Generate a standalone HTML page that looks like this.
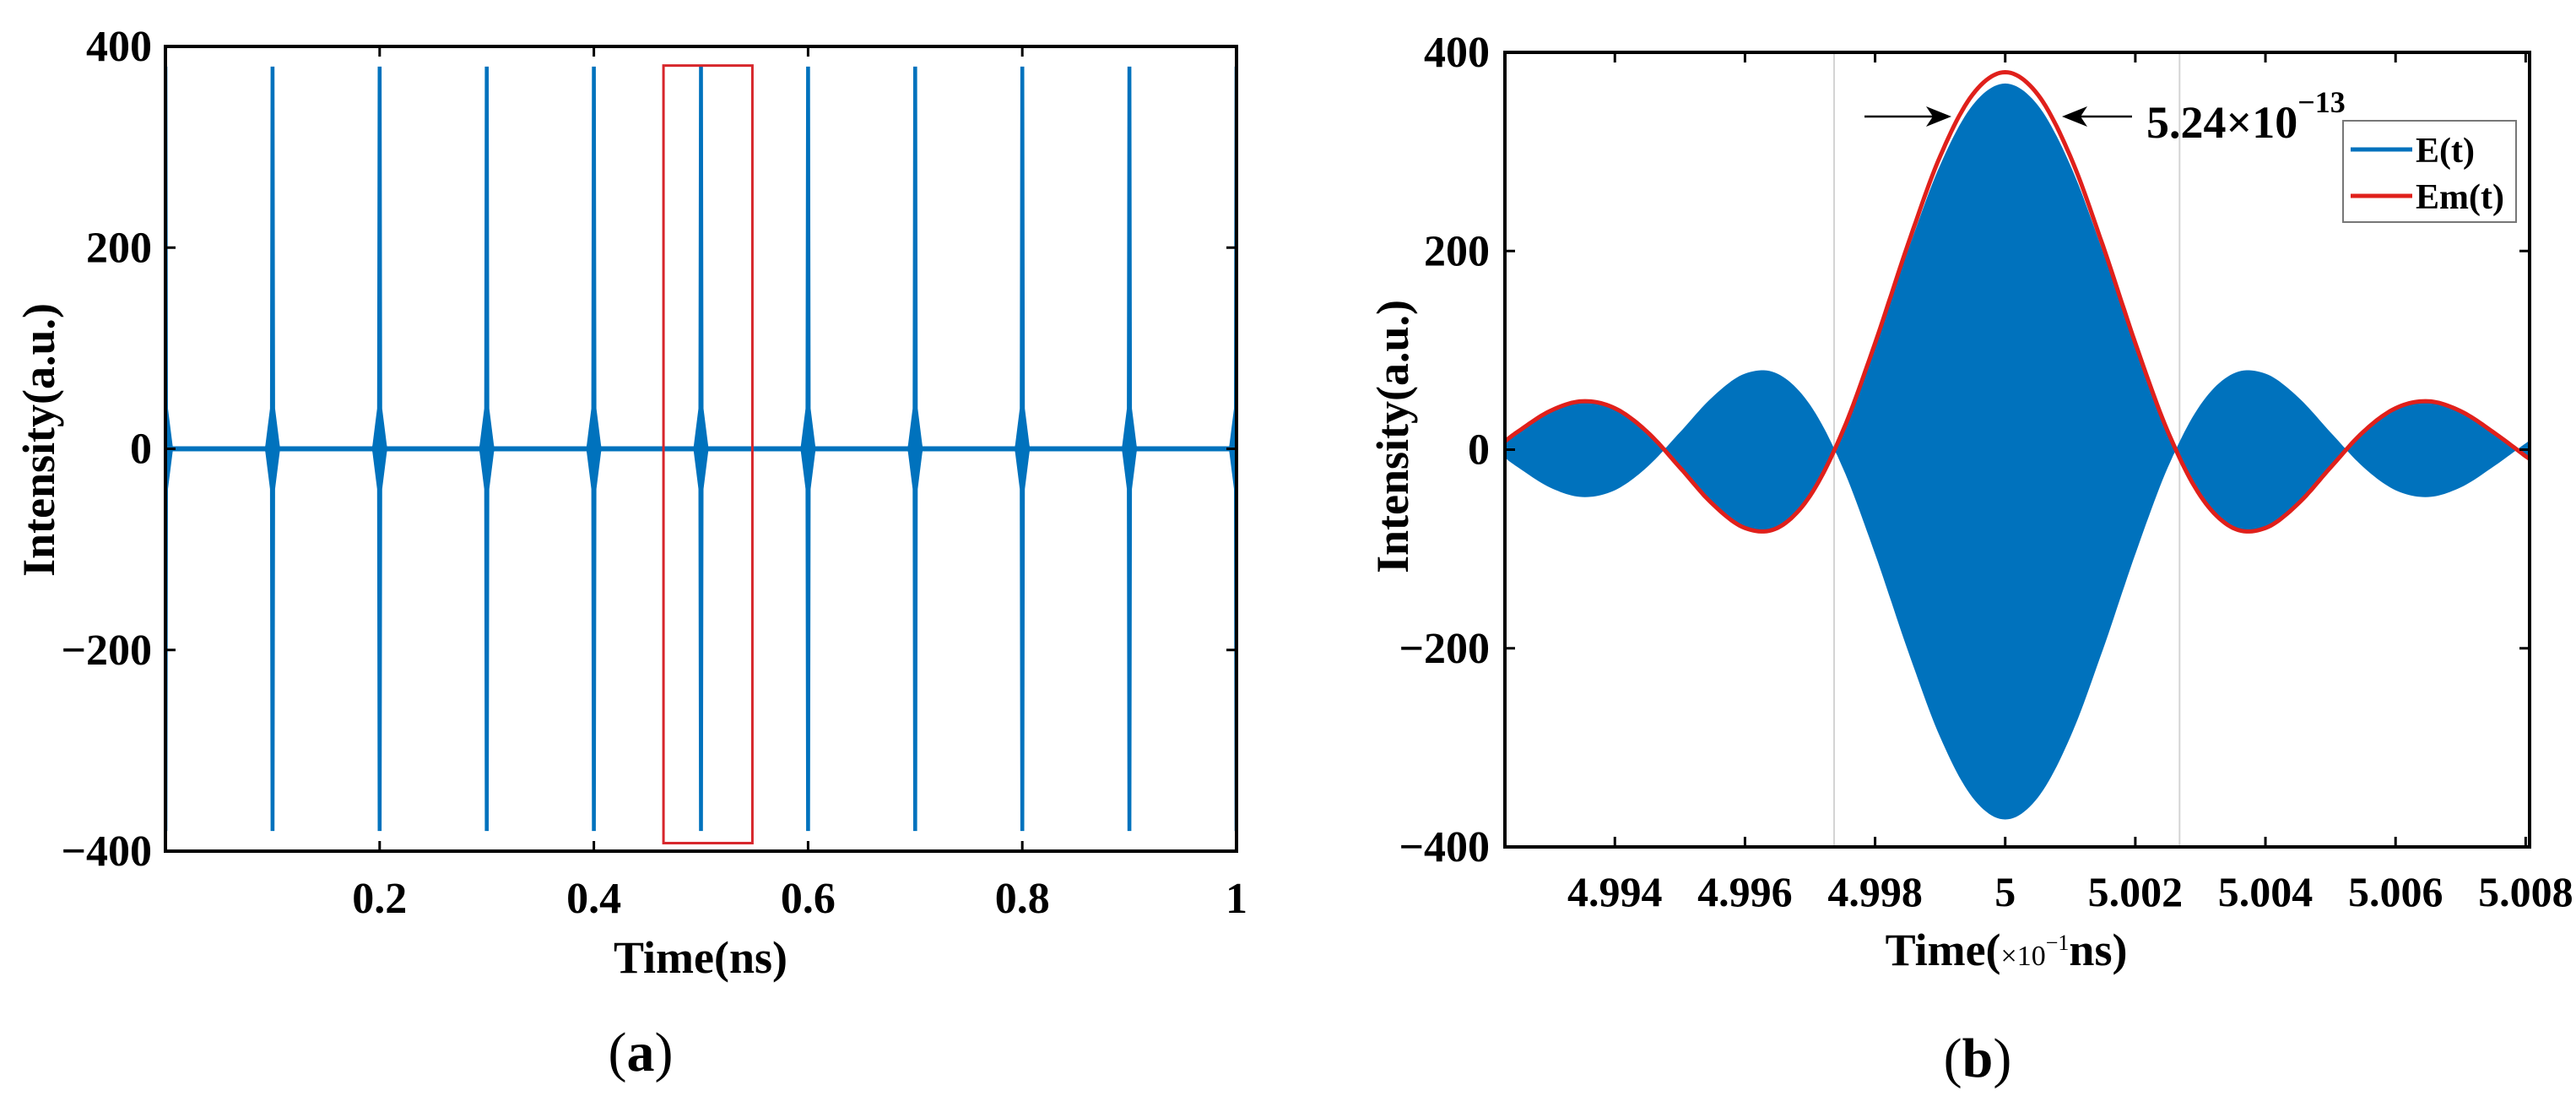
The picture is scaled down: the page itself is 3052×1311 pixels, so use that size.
<!DOCTYPE html>
<html><head><meta charset="utf-8"><style>
html,body{margin:0;padding:0;background:#fff;}
svg{display:block;}
text{font-family:"Liberation Serif",serif;font-weight:bold;fill:#000;}
</style></head><body>
<svg id="fig" width="3052" height="1311" viewBox="0 0 3052 1311" xmlns="http://www.w3.org/2000/svg">
<defs>
<clipPath id="clipA"><rect x="196" y="55" width="1269" height="953"/></clipPath>
<clipPath id="clipB"><rect x="1783" y="62" width="1214" height="941"/></clipPath>
</defs>
<g id="panelA"></g>
<g id="panelB"></g>
</svg>
<script>
// ---- Panel (a) data ----
const spikeTimes = [0, 0.1, 0.2, 0.3, 0.4, 0.5, 0.6, 0.7, 0.8, 0.9, 1.0];
const spikeAmps  = [380, 380, 380, 380, 380, 380, 380, 380, 380, 380, 380];
const aXTicks = [0.2, 0.4, 0.6, 0.8, 1];
const aXTickLabels = ["0.2", "0.4", "0.6", "0.8", "1"];
const aYTicks = [400, 200, 0, -200, -400];
const aYTickLabels = ["400", "200", "0", "\u2212200", "\u2212400"];
const zoomBoxX = [0.465, 0.548];
const zoomBoxY = [-392, 381];

// ---- Panel (b) data ----
const envTimes = [4.9923,4.9925,4.9930,4.9935,4.9940,4.9945,4.9950,4.9955,4.9960,4.9965,4.9970,4.9975,4.9980,4.9985,4.9990,4.9995,5.0000,5.0005,5.0010,5.0015,5.0020,5.0025,5.0030,5.0035,5.0040,5.0045,5.0050,5.0055,5.0060,5.0065,5.0070,5.0075,5.0080,5.0081];
const envValues = [7.8,17.7,38.8,48.7,41.7,17.7,-18.0,-54.6,-78.9,-78.8,-46.5,18.2,107.3,205.7,295.4,357.6,380,357.6,295.4,205.7,107.3,18.2,-46.5,-78.8,-78.9,-54.6,-18.0,17.7,41.7,48.7,38.8,17.7,-6.6,-11];
const markerTimes = [4.99737, 5.00268];
const bXTicks = [4.994, 4.996, 4.998, 5, 5.002, 5.004, 5.006, 5.008];
const bXTickLabels = ["4.994","4.996","4.998","5","5.002","5.004","5.006","5.008"];
const bYTicks = [400, 200, 0, -200, -400];
const bYTickLabels = ["400","200","0","\u2212200","\u2212400"];

const NS = "http://www.w3.org/2000/svg";
function mk(parent, tag, attrs, txt){
  const e = document.createElementNS(NS, tag);
  for (const k in attrs) e.setAttribute(k, attrs[k]);
  if (txt !== undefined) e.textContent = txt;
  parent.appendChild(e);
  return e;
}

// ---------- Panel A ----------
const A = {l:196, r:1465, t:55, b:1008, x0:0, x1:1, y0:-400, y1:400};
const ax = v => A.l + (v - A.x0) / (A.x1 - A.x0) * (A.r - A.l);
const ay = v => A.b - (v - A.y0) / (A.y1 - A.y0) * (A.b - A.t);
const gA = document.getElementById('panelA');
const plotA = mk(gA, 'g', {'clip-path':'url(#clipA)'});


const base = mk(plotA, 'rect', {x:A.l, y:ay(2.5), width:A.r-A.l, height:ay(-2.5)-ay(2.5), fill:'#0072BD'});


spikeTimes.forEach((t, i) => {
  const x = ax(t), a = spikeAmps[i];
  const g = mk(plotA, 'g', {});
  
  
  const d = `M${x-2.3},${ay(a)} L${x+2.3},${ay(a)} L${x+3},${ay(40)} L${x+9},${ay(0)} L${x+3},${ay(-40)} L${x+2.3},${ay(-a)} L${x-2.3},${ay(-a)} L${x-3},${ay(-40)} L${x-9},${ay(0)} L${x-3},${ay(40)} Z`;
  mk(g, 'path', {d:d, fill:'#0072BD'});
  mk(g, 'ellipse', {cx:x, cy:ay(0), rx:9, ry:11, fill:'#0072BD'});
});
const zb = mk(gA, 'rect', {x:ax(zoomBoxX[0]), y:ay(zoomBoxY[1]), width:ax(zoomBoxX[1])-ax(zoomBoxX[0]), height:ay(zoomBoxY[0])-ay(zoomBoxY[1]), fill:'none', stroke:'#D7262B', 'stroke-width':3});


const frameA = mk(gA, 'rect', {x:A.l, y:A.t, width:A.r-A.l, height:A.b-A.t, fill:'none', stroke:'#000', 'stroke-width':4});


aXTicks.forEach((v, i) => {
  const x = ax(v);
  mk(gA, 'line', {x1:x, x2:x, y1:A.b, y2:A.b-12, stroke:'#000', 'stroke-width':3});
  mk(gA, 'line', {x1:x, x2:x, y1:A.t, y2:A.t+12, stroke:'#000', 'stroke-width':3});
  const t = mk(gA, 'text', {x:x, y:A.b+73, 'font-size':52, 'text-anchor':'middle'}, aXTickLabels[i]);
  
  
});
aYTicks.forEach((v, i) => {
  const y = ay(v);
  mk(gA, 'line', {x1:A.l, x2:A.l+12, y1:y, y2:y, stroke:'#000', 'stroke-width':3});
  mk(gA, 'line', {x1:A.r, x2:A.r-12, y1:y, y2:y, stroke:'#000', 'stroke-width':3});
  const t = mk(gA, 'text', {x:A.l-16, y:y+17, 'font-size':52, 'text-anchor':'end'}, aYTickLabels[i]);
  
  
});
{
  const t = mk(gA, 'text', {x:830, y:1152, 'font-size':54, 'text-anchor':'middle'}, 'Time(ns)');
  
  
  const y = mk(gA, 'text', {x:0, y:0, 'font-size':54, 'text-anchor':'middle', transform:'translate(64,521) rotate(-90)'}, 'Intensity(a.u.)');
  
  
  const c = mk(gA, 'text', {x:759, y:1268, 'font-size':66, 'text-anchor':'middle', 'font-weight':'normal'});
  
  
  mk(c, 'tspan', {'font-weight':'normal'}, '(');
  mk(c, 'tspan', {'font-weight':'bold'}, 'a');
  mk(c, 'tspan', {'font-weight':'normal'}, ')');
}

// ---------- Panel B ----------
const B = {l:1783, r:2997, t:62, b:1003, x0:4.99231, x1:5.00806, y0:-400, y1:400};
const bx = v => B.l + (v - B.x0) / (B.x1 - B.x0) * (B.r - B.l);
const by = v => B.b - (v - B.y0) / (B.y1 - B.y0) * (B.b - B.t);
const gB = document.getElementById('panelB');
function dense(){
  const pts = [];
  const n = envTimes.length;
  for (let i = 0; i < n-1; i++){
    const p0 = i>0 ? i-1 : i, p3 = i+2<n ? i+2 : i+1;
    for (let s = 0; s < 12; s++){
      const u = s/12, u2=u*u, u3=u2*u;
      const cr = (a,b,c,d) => 0.5*((2*b)+(-a+c)*u+(2*a-5*b+4*c-d)*u2+(-a+3*b-3*c+d)*u3);
      pts.push([cr(envTimes[p0],envTimes[i],envTimes[i+1],envTimes[p3]), cr(envValues[p0],envValues[i],envValues[i+1],envValues[p3])]);
    }
  }
  pts.push([envTimes[n-1], envValues[n-1]]);
  return pts;
}
const env = dense();
const plotB = mk(gB, 'g', {'clip-path':'url(#clipB)'});


markerTimes.forEach(t => {
  const l = mk(plotB, 'line', {x1:bx(t), x2:bx(t), y1:B.t, y2:B.b, stroke:'#d4d4d4', 'stroke-width':2});
  
  
});
{
  let up = '', dn = '';
  env.forEach((p, i) => { up += (i? 'L':'M') + bx(p[0]).toFixed(1) + ',' + by(Math.abs(p[1])*0.97).toFixed(1); });
  for (let i = env.length-1; i >= 0; i--) dn += 'L' + bx(env[i][0]).toFixed(1) + ',' + by(-Math.abs(env[i][1])*0.98).toFixed(1);
  const f = mk(plotB, 'path', {d: up + dn + 'Z', fill:'#0072BD'});
  
  
  let d = '';
  env.forEach((p, i) => { d += (i? 'L':'M') + bx(p[0]).toFixed(1) + ',' + by(p[1]).toFixed(1); });
  const r = mk(plotB, 'path', {d:d, fill:'none', stroke:'#E0201B', 'stroke-width':5});
  
  
}
const frameB = mk(gB, 'rect', {x:B.l, y:B.t, width:B.r-B.l, height:B.b-B.t, fill:'none', stroke:'#000', 'stroke-width':4});


bXTicks.forEach((v, i) => {
  const x = bx(v);
  mk(gB, 'line', {x1:x, x2:x, y1:B.b, y2:B.b-12, stroke:'#000', 'stroke-width':3});
  mk(gB, 'line', {x1:x, x2:x, y1:B.t, y2:B.t+12, stroke:'#000', 'stroke-width':3});
  const t = mk(gB, 'text', {x:x, y:B.b+70, 'font-size':50, 'text-anchor':'middle'}, bXTickLabels[i]);
  
  
});
bYTicks.forEach((v, i) => {
  const y = by(v);
  mk(gB, 'line', {x1:B.l, x2:B.l+12, y1:y, y2:y, stroke:'#000', 'stroke-width':3});
  mk(gB, 'line', {x1:B.r, x2:B.r-12, y1:y, y2:y, stroke:'#000', 'stroke-width':3});
  const t = mk(gB, 'text', {x:B.l-18, y:y+17, 'font-size':52, 'text-anchor':'end'}, bYTickLabels[i]);
  
  
});
{
  const ann = mk(gB, 'g', {});
  
  
  mk(ann, 'line', {x1:2209, x2:2296, y1:138, y2:138, stroke:'#000', 'stroke-width':2.5});
  mk(ann, 'path', {d:'M2312,138 L2282,126 L2290,138 L2282,150 Z', fill:'#000'});
  mk(ann, 'line', {x1:2458, x2:2526, y1:138, y2:138, stroke:'#000', 'stroke-width':2.5});
  mk(ann, 'path', {d:'M2443,138 L2473,126 L2465,138 L2473,150 Z', fill:'#000'});
  const t = mk(ann, 'text', {x:2543, y:163, 'font-size':54});
  t.appendChild(document.createTextNode('5.24\u00d710'));
  mk(t, 'tspan', {'font-size':36, dy:-30}, '\u221213');

  const leg = mk(gB, 'g', {});
  
  
  mk(leg, 'rect', {x:2776, y:143, width:205, height:120, fill:'#fff', stroke:'#777', 'stroke-width':2});
  mk(leg, 'line', {x1:2785, x2:2858, y1:177, y2:177, stroke:'#0072BD', 'stroke-width':5});
  mk(leg, 'text', {x:2862, y:192, 'font-size':42}, 'E(t)');
  mk(leg, 'line', {x1:2785, x2:2858, y1:232, y2:232, stroke:'#E0201B', 'stroke-width':5});
  mk(leg, 'text', {x:2862, y:247, 'font-size':42}, 'Em(t)');

  const xt = mk(gB, 'text', {x:2377, y:1143, 'font-size':54, 'text-anchor':'middle'});
  
  
  xt.appendChild(document.createTextNode('Time('));
  mk(xt, 'tspan', {'font-size':34, 'font-weight':'normal'}, '\u00d710');
  mk(xt, 'tspan', {'font-size':26, dy:-18, 'font-weight':'normal'}, '\u22121');
  mk(xt, 'tspan', {dy:18}, 'ns)');
  const yt = mk(gB, 'text', {x:0, y:0, 'font-size':54, 'text-anchor':'middle', transform:'translate(1668,517) rotate(-90)'}, 'Intensity(a.u.)');
  
  
  const c = mk(gB, 'text', {x:2343, y:1275, 'font-size':66, 'text-anchor':'middle', 'font-weight':'normal'});
  
  
  mk(c, 'tspan', {'font-weight':'normal'}, '(');
  mk(c, 'tspan', {'font-weight':'bold'}, 'b');
  mk(c, 'tspan', {'font-weight':'normal'}, ')');
}
</script>
</body></html>
